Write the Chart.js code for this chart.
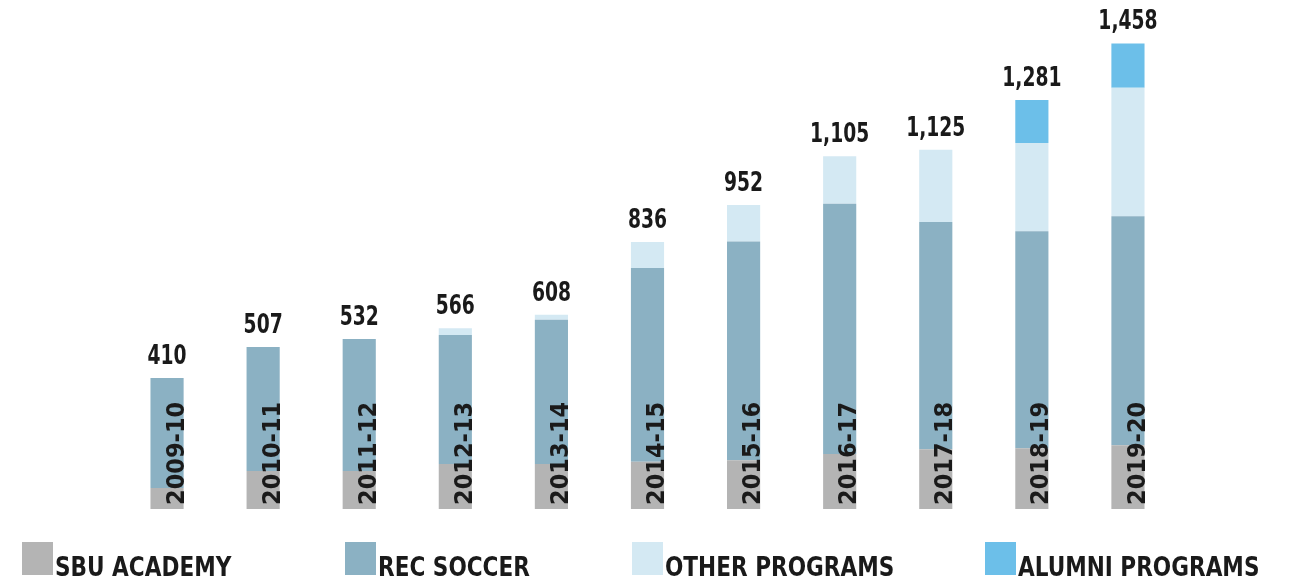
<!DOCTYPE html>
<html>
<head>
<meta charset="utf-8">
<script src="https://cdn.jsdelivr.net/npm/chart.js@4/dist/chart.umd.min.js"></script>
<style>
  body { margin: 0; background: #fff; }
  #wrap { width: 1300px; height: 580px; }
</style>
</head>
<body>
<div id="wrap"><canvas id="chart" width="1300" height="580"></canvas></div>
<script>
var SEASONS = ['2009-10', '2010-11', '2011-12', '2012-13', '2013-14', '2014-15', '2015-16', '2016-17', '2017-18', '2018-19', '2019-20'];
var SBU_ACADEMY = [66, 119, 119, 141, 141, 148, 153, 172, 187, 190, 200];
var REC_SOCCER = [344, 388, 413, 404, 452, 607, 685, 784, 712, 680, 717];
var OTHER_PROGRAMS = [0, 0, 0, 21, 15, 81, 114, 149, 226, 276, 402];
var ALUMNI_PROGRAMS = [0, 0, 0, 0, 0, 0, 0, 0, 0, 135, 139];
var TOTALS = [410, 507, 532, 566, 608, 836, 952, 1105, 1125, 1281, 1458];
var NAMES = ['SBU ACADEMY', 'REC SOCCER', 'OTHER PROGRAMS', 'ALUMNI PROGRAMS'];
var COLORS = ['#b4b4b4', '#8bb1c3', '#d4e9f3', '#6cbfe9'];

var FONT = "'DejaVu Sans Condensed', 'Liberation Sans Narrow', sans-serif";
var LEGEND_X = [22, 345, 632, 985];

// draws condensed text (the original uses a narrow DIN-like face)
function narrowText(c, text, x, y, squeeze) {
  c.save();
  c.translate(x, y);
  c.scale(squeeze, 1);
  c.fillText(text, 0, 0);
  c.restore();
}

var labelsPlugin = {
  id: 'labels',
  afterDatasetsDraw: function(chart) {
    var c = chart.ctx;
    var x = chart.scales.x;
    var y = chart.scales.y;
    var half = chart.getDatasetMeta(0).data[0].width / 2;
    c.save();
    c.fillStyle = '#1a1a1a';
    c.font = 'bold 26px ' + FONT;
    c.textAlign = 'center';
    c.textBaseline = 'alphabetic';
    TOTALS.forEach(function(t, i) {
      narrowText(c, t.toLocaleString('en-US'), x.getPixelForTick(i), y.getPixelForValue(t) - 14, 0.8);
    });
    c.font = 'bold 25px ' + FONT;
    c.textAlign = 'left';
    SEASONS.forEach(function(s, i) {
      c.save();
      c.translate(x.getPixelForTick(i) + half, y.getPixelForValue(0) - 4);
      c.rotate(-Math.PI / 2);
      c.fillText(s, 0, 0);
      c.restore();
    });
    c.restore();
  },
  afterDraw: function(chart) {
    var c = chart.ctx;
    c.save();
    c.font = 'bold 27px ' + FONT;
    c.textAlign = 'left';
    c.textBaseline = 'alphabetic';
    NAMES.forEach(function(n, i) {
      c.fillStyle = COLORS[i];
      c.fillRect(LEGEND_X[i], 542, 31, 33);
      c.fillStyle = '#1a1a1a';
      narrowText(c, n, LEGEND_X[i] + 33, 576, 0.89);
    });
    c.restore();
  }
};

var series = [SBU_ACADEMY, REC_SOCCER, OTHER_PROGRAMS, ALUMNI_PROGRAMS];
var datasets = series.map(function(d, i) {
  return {
    label: NAMES[i],
    data: d,
    backgroundColor: COLORS[i],
    borderWidth: 0,
    categoryPercentage: 1,
    barPercentage: 0.345
  };
});

var chart = new Chart(document.getElementById('chart'), {
  type: 'bar',
  data: { labels: SEASONS, datasets: datasets },
  plugins: [labelsPlugin],
  options: {
    responsive: false,
    animation: false,
    layout: { padding: { left: 119, right: 124, top: 30, bottom: 71 } },
    plugins: {
      legend: { display: false },
      tooltip: { enabled: false }
    },
    scales: {
      x: { stacked: true, display: false },
      y: { stacked: true, display: false, min: 0, max: 1500 }
    }
  }
});
</script>
</body>
</html>
